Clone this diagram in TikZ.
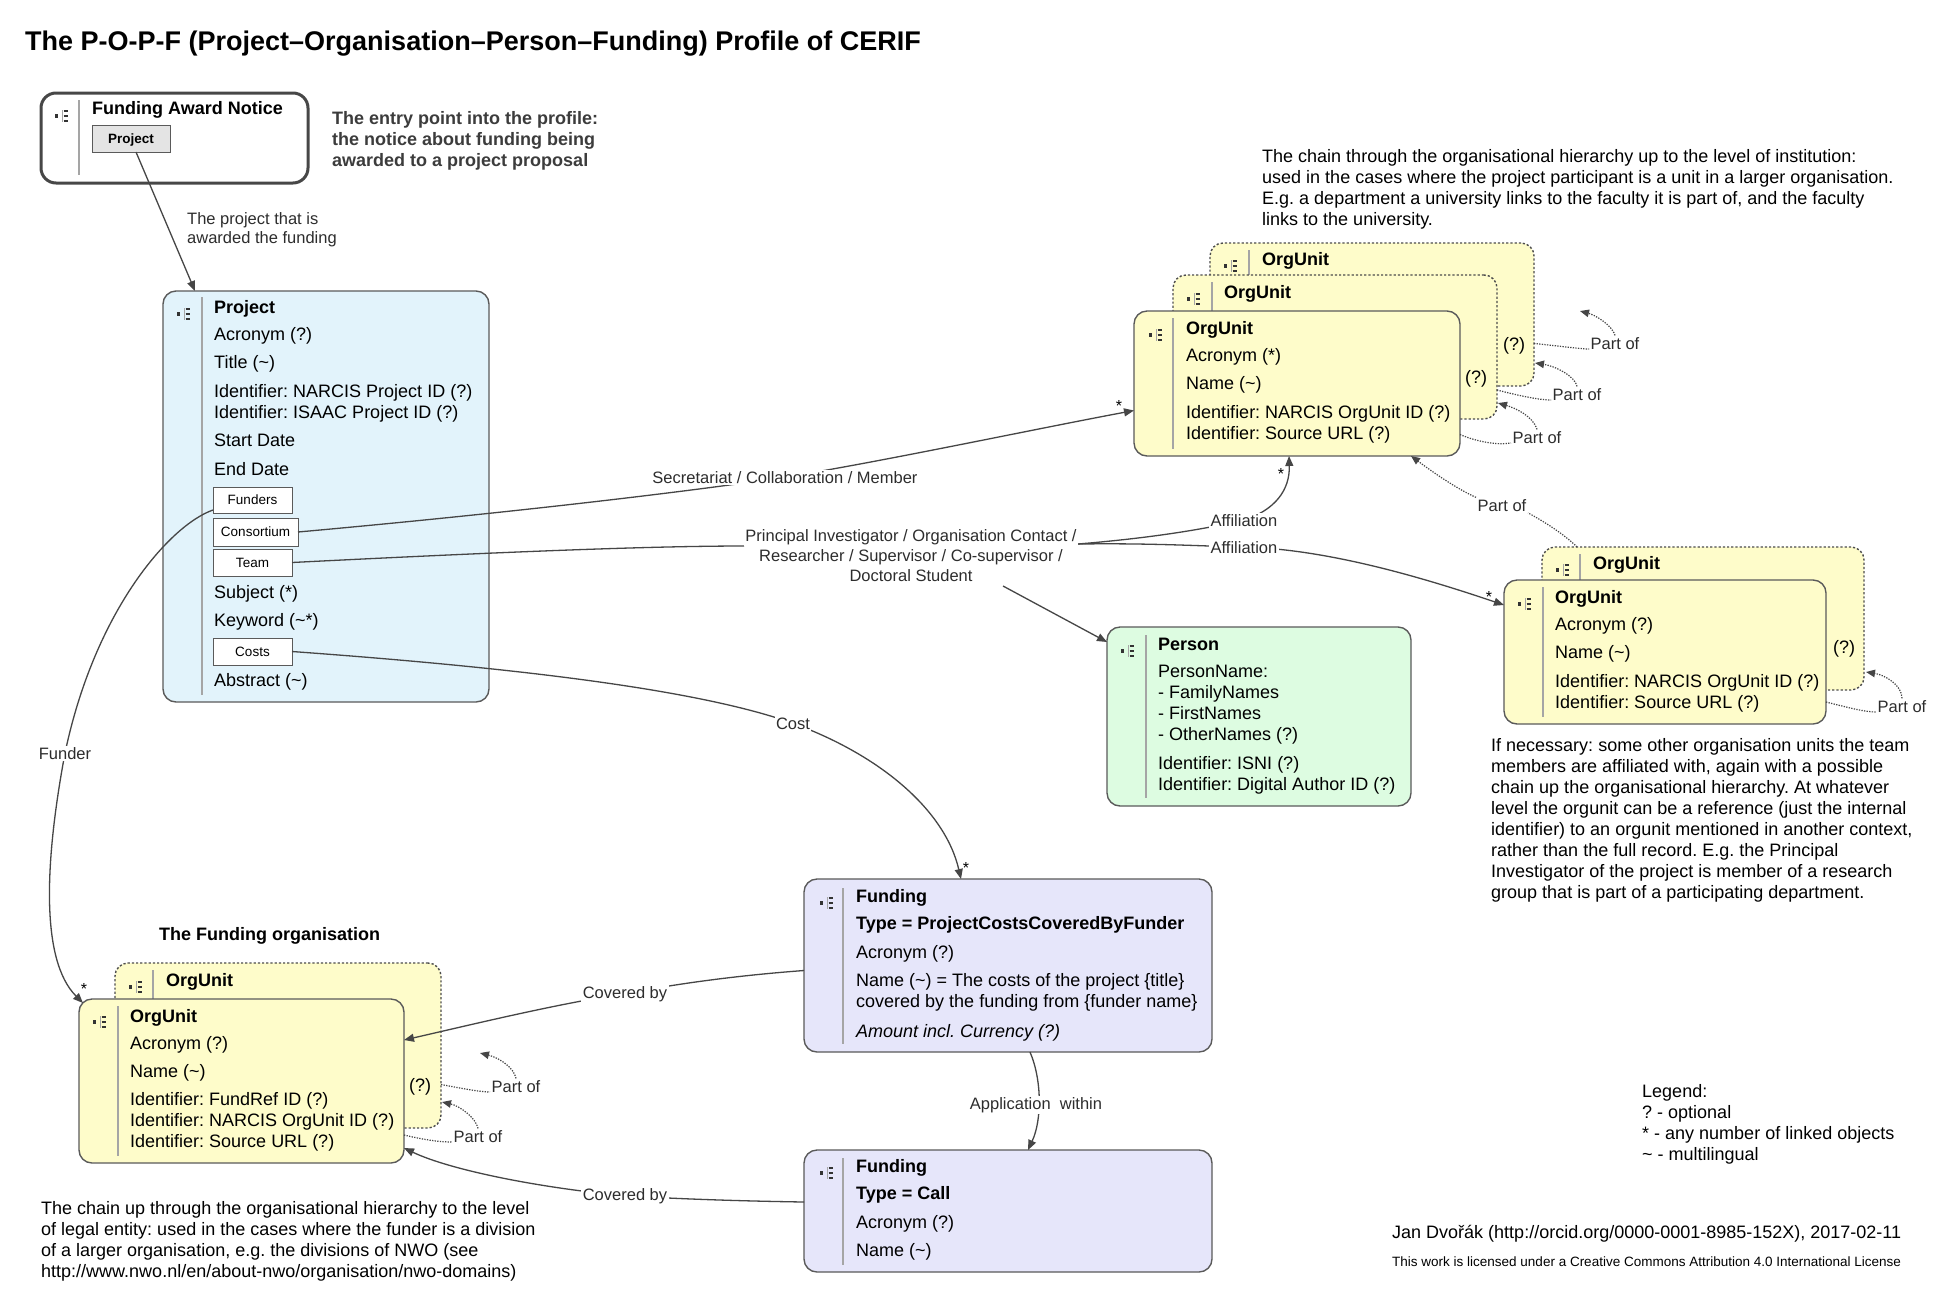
\documentclass[tikz,border=0pt]{standalone}
\usepackage{fontspec}
\setmainfont{Liberation Sans}
\usetikzlibrary{arrows.meta,calc}
\frenchspacing
\definecolor{projfill}{RGB}{226,243,251}
\definecolor{orgfill}{RGB}{254,252,202}
\definecolor{personfill}{RGB}{221,252,225}
\definecolor{fundfill}{RGB}{230,230,250}
\definecolor{btnfill}{RGB}{228,228,228}
\definecolor{edgeclr}{RGB}{90,90,90}
\definecolor{lineclr}{RGB}{70,70,70}
\definecolor{lblclr}{RGB}{45,45,45}
\definecolor{sepclr}{RGB}{165,165,165}
\definecolor{entryclr}{RGB}{60,60,60}
\pgfdeclarelayer{lines}
\pgfdeclarelayer{top}
\pgfsetlayers{main,lines,top}
\tikzset{
  cbox/.style={draw=edgeclr, line width=1.4pt, rounded corners=13pt, anchor=north west, inner sep=0pt, outer sep=0pt},
  dbox/.style={cbox, draw=black!70, dash pattern=on 2.2pt off 2pt},
  btn/.style={draw=edgeclr, line width=1pt, fill=white, anchor=north west, inner sep=0pt, outer sep=0pt,
    font=\fontsize{13.5}{16}\selectfont, text height=9.7pt, text depth=0pt},
  txt/.style={inner sep=0pt, anchor=base west, font=\fontsize{18}{21}\selectfont},
  btxt/.style={txt, font=\fontsize{18}{21}\selectfont\bfseries},
  lbl/.style={inner sep=1.5pt, anchor=base, fill=white, text=lblclr, font=\fontsize{16.5}{19}\selectfont},
  plbl/.style={lbl, fill=none},
  mult/.style={inner sep=0pt, anchor=base, font=\fontsize{16}{19}\selectfont},
  sepline/.style={draw=sepclr, line width=1.2pt},
  conn/.style={draw=lineclr, line width=1.3pt, -{Triangle[length=10pt,width=8pt]}},
  conline/.style={draw=lineclr, line width=1.3pt},
  dconn/.style={draw=lineclr, line width=1.2pt, dash pattern=on 1.3pt off 1.3pt, -{Triangle[length=9pt,width=7.5pt]}},
  dline/.style={draw=lineclr, line width=1.2pt, dash pattern=on 1.3pt off 1.3pt},
  treeicon/.pic={
    \fill[black!80] (-7,-1.7) rectangle (-3.6,1.7);
    \draw[black!35, line width=0.7pt] (0,-6) -- (0,6);
    \draw[black!80, line width=1.6pt] (1.5,-5) -- (5.5,-5) (1.5,0) -- (5.5,0) (1.5,5) -- (5.5,5);
  }
}
\begin{document}
\begin{tikzpicture}[x=1pt,y=-1pt]
\useasboundingbox (0,0) rectangle (1950,1310);
\fill[white] (0,0) rectangle (1950,1310);

% title
\node[inner sep=0pt, anchor=base west, font=\fontsize{27}{32}\selectfont\bfseries] (title) at (25,50)
  {The P-O-P-F (Project–Organisation–Person–Funding) Profile of CERIF};

% Funding Award Notice
\node[cbox, line width=3pt, draw=black!72, rounded corners=15pt, fill=white, minimum width=267pt, minimum height=90pt] (notice) at (41,93) {};
\pic at (62,116) {treeicon};
\draw[sepline] (79,100) -- (79,175);
\node[btxt] (noticeT) at (92,114) {Funding Award Notice};
\node[btn, fill=btnfill, minimum width=78pt, minimum height=27pt, font=\fontsize{13.5}{16}\selectfont\bfseries] (projbtn) at (92,125) {Project};

\node[txt, font=\fontsize{18}{21}\selectfont\bfseries, text=entryclr] (e1) at (332,124) {The entry point into the profile:};
\node[txt, font=\fontsize{18}{21}\selectfont\bfseries, text=entryclr] (e2) at (332,145) {the notice about funding being};
\node[txt, font=\fontsize{18}{21}\selectfont\bfseries, text=entryclr] (e3) at (332,166) {awarded to a project proposal};

\node[txt, text=lblclr, font=\fontsize{16.5}{19}\selectfont] (n1) at (187,224) {The project that is};
\node[txt, text=lblclr, font=\fontsize{16.5}{19}\selectfont] (n2) at (187,243) {awarded the funding};

% Project
\node[cbox, fill=projfill, minimum width=326pt, minimum height=411pt] (project) at (163,291) {};
\pic at (184,314) {treeicon};
\draw[sepline] (202,297) -- (202,695);
\node[btxt] (pT) at (214,313) {Project};
\node[txt] (p1) at (214,340) {Acronym (?)};
\node[txt] (p2) at (214,368) {Title (\textasciitilde)};
\node[txt] (p3) at (214,397) {Identifier: NARCIS Project ID (?)};
\node[txt] (p4) at (214,418) {Identifier: ISAAC Project ID (?)};
\node[txt] (p5) at (214,446) {Start Date};
\node[txt] (p6) at (214,475) {End Date};
\node[btn, minimum width=79pt, minimum height=26pt] (funders) at (213,487) {Funders};
\node[btn, minimum width=85pt, minimum height=28pt] (consortium) at (213,518) {Consortium};
\node[btn, minimum width=79pt, minimum height=27pt] (team) at (213,549) {Team};
\node[txt] (p7) at (214,598) {Subject (*)};
\node[txt] (p8) at (214,626) {Keyword (\textasciitilde*)};
\node[btn, minimum width=79pt, minimum height=27pt] (costs) at (213,638) {Costs};
\node[txt] (p9) at (214,686) {Abstract (\textasciitilde)};

% upper OrgUnit stack
\node[dbox, fill=orgfill, minimum width=324pt, minimum height=143pt] (orgA2) at (1210,243) {};
\pic at (1231,266) {treeicon};
\draw[sepline] (1249,250) -- (1249,379);
\node[btxt] (a2T) at (1262,265) {OrgUnit};
\node[txt, anchor=base] (a2q) at (1514,350) {(?)};
\node[dbox, fill=orgfill, minimum width=324pt, minimum height=144pt] (orgA1) at (1173,275) {};
\pic at (1194,299) {treeicon};
\draw[sepline] (1212,282) -- (1212,412);
\node[btxt] (a1T) at (1224,298) {OrgUnit};
\node[txt, anchor=base] (a1q) at (1476,383) {(?)};
\node[cbox, fill=orgfill, minimum width=326pt, minimum height=145pt] (orgA) at (1134,311) {};
\pic at (1156,335) {treeicon};
\draw[sepline] (1173,318) -- (1173,449);
\node[btxt] (aT) at (1186,334) {OrgUnit};
\node[txt] (a1) at (1186,361) {Acronym (*)};
\node[txt] (a2) at (1186,389) {Name (\textasciitilde)};
\node[txt] (a3) at (1186,418) {Identifier: NARCIS OrgUnit ID (?)};
\node[txt] (a4) at (1186,439) {Identifier: Source URL (?)};

% lower right OrgUnit stack
\node[dbox, fill=orgfill, minimum width=322pt, minimum height=143pt] (orgBb) at (1542,547) {};
\pic at (1563,570) {treeicon};
\draw[sepline] (1580,554) -- (1580,683);
\node[btxt] (bbT) at (1593,569) {OrgUnit};
\node[txt, anchor=base] (bbq) at (1844,653) {(?)};
\node[cbox, fill=orgfill, minimum width=322pt, minimum height=144pt] (orgB) at (1504,580) {};
\pic at (1525,604) {treeicon};
\draw[sepline] (1543,587) -- (1543,717);
\node[btxt] (bT) at (1555,603) {OrgUnit};
\node[txt] (b1) at (1555,630) {Acronym (?)};
\node[txt] (b2) at (1555,658) {Name (\textasciitilde)};
\node[txt] (b3) at (1555,687) {Identifier: NARCIS OrgUnit ID (?)};
\node[txt] (b4) at (1555,708) {Identifier: Source URL (?)};

% Person
\node[cbox, fill=personfill, minimum width=304pt, minimum height=179pt] (person) at (1107,627) {};
\pic at (1128,651) {treeicon};
\draw[sepline] (1146,635) -- (1146,798);
\node[btxt] (perT) at (1158,650) {Person};
\node[txt] (per1) at (1158,677) {PersonName:};
\node[txt] (per2) at (1158,698) {- FamilyNames};
\node[txt] (per3) at (1158,719) {- FirstNames};
\node[txt] (per4) at (1158,740) {- OtherNames (?)};
\node[txt] (per5) at (1158,769) {Identifier: ISNI (?)};
\node[txt] (per6) at (1158,790) {Identifier: Digital Author ID (?)};

% Funding (ProjectCostsCoveredByFunder)
\node[cbox, fill=fundfill, minimum width=408pt, minimum height=173pt] (fund1) at (804,879) {};
\pic at (827,903) {treeicon};
\draw[sepline] (843,888) -- (843,1044);
\node[btxt] (f1T) at (856,902) {Funding};
\node[btxt] (f11) at (856,929) {Type = ProjectCostsCoveredByFunder};
\node[txt] (f12) at (856,958) {Acronym (?)};
\node[txt] (f13) at (856,986) {Name (\textasciitilde) = The costs of the project \{title\}};
\node[txt] (f14) at (856,1007) {covered by the funding from \{funder name\}};
\node[txt, font=\fontsize{18}{21}\selectfont\itshape] (f15) at (856,1037) {Amount incl. Currency (?)};

% Funding (Call)
\node[cbox, fill=fundfill, minimum width=408pt, minimum height=122pt] (fund2) at (804,1150) {};
\pic at (827,1173) {treeicon};
\draw[sepline] (843,1158) -- (843,1265);
\node[btxt] (f2T) at (856,1172) {Funding};
\node[btxt] (f21) at (856,1199) {Type = Call};
\node[txt] (f22) at (856,1228) {Acronym (?)};
\node[txt] (f23) at (856,1256) {Name (\textasciitilde)};

% Funding organisation
\node[btxt] (foHead) at (159,940) {The Funding organisation};
\node[dbox, fill=orgfill, minimum width=326pt, minimum height=165pt] (foBack) at (115,963) {};
\pic at (136,987) {treeicon};
\draw[sepline] (153,970) -- (153,1121);
\node[btxt] (fbT) at (166,986) {OrgUnit};
\node[txt, anchor=base] (fbq) at (420,1091) {(?)};
\node[cbox, fill=orgfill, minimum width=325pt, minimum height=164pt] (fo) at (79,999) {};
\pic at (100,1022) {treeicon};
\draw[sepline] (118,1006) -- (118,1156);
\node[btxt] (foT) at (130,1022) {OrgUnit};
\node[txt] (fo1) at (130,1049) {Acronym (?)};
\node[txt] (fo2) at (130,1077) {Name (\textasciitilde)};
\node[txt] (fo3) at (130,1105) {Identifier: FundRef ID (?)};
\node[txt] (fo4) at (130,1126) {Identifier: NARCIS OrgUnit ID (?)};
\node[txt] (fo5) at (130,1147) {Identifier: Source URL (?)};

% descriptions
\node[txt] (d1) at (1262,162) {The chain through the organisational hierarchy up to the level of institution:};
\node[txt] (d2) at (1262,183) {used in the cases where the project participant is a unit in a larger organisation.};
\node[txt] (d3) at (1262,204) {E.g. a department a university links to the faculty it is part of, and the faculty};
\node[txt] (d4) at (1262,225) {links to the university.};

\node[txt] (r1) at (1491,751) {If necessary: some other organisation units the team};
\node[txt] (r2) at (1491,772) {members are affiliated with, again with a possible};
\node[txt] (r3) at (1491,793) {chain up the organisational hierarchy. At whatever};
\node[txt] (r4) at (1491,814) {level the orgunit can be a reference (just the internal};
\node[txt] (r5) at (1491,835) {identifier) to an orgunit mentioned in another context,};
\node[txt] (r6) at (1491,856) {rather than the full record. E.g. the Principal};
\node[txt] (r7) at (1491,877) {Investigator of the project is member of a research};
\node[txt] (r8) at (1491,898) {group that is part of a participating department.};

\node[txt] (l1) at (41,1214) {The chain up through the organisational hierarchy to the level};
\node[txt] (l2) at (41,1235) {of legal entity: used in the cases where the funder is a division};
\node[txt] (l3) at (41,1256) {of a larger organisation, e.g. the divisions of NWO (see};
\node[txt] (l4) at (41,1277) {http://www.nwo.nl/en/about-nwo/organisation/nwo-domains)};

% legend and credits
\node[txt] (g0) at (1642,1097) {Legend:};
\node[txt] (g1) at (1642,1118) {? - optional};
\node[txt] (g2) at (1642,1139) {* - any number of linked objects};
\node[txt] (g3) at (1642,1160) {\textasciitilde{} - multilingual};
\node[txt] (cr1) at (1392,1238) {Jan Dvořák (http://orcid.org/0000-0001-8985-152X), 2017-02-11};
\node[txt, font=\fontsize{13.5}{16}\selectfont] (cr2) at (1392,1266) {This work is licensed under a Creative Commons Attribution 4.0 International License};

% multiplicity stars
\node[mult] (s1) at (1119,411) {*};
\node[mult] (s2) at (1281,479) {*};
\node[mult] (s3) at (1489,602) {*};
\node[mult] (s4) at (966,873) {*};
\node[mult] (s5) at (84,994) {*};

% free ends
\coordinate (rolesL) at (744,546);
\coordinate (rolesR) at (1078,544);
\coordinate (rolesB) at (1003,586);
\coordinate (ptop) at (1580,311);
\coordinate (pfund) at (480,1053);

% labels on top
\begin{pgfonlayer}{top}
\node[lbl] (lblSec) at (785,483) {Secretariat / Collaboration / Member};
\node[lbl] (ro1) at (911,541) {Principal Investigator / Organisation Contact /};
\node[lbl] (ro2) at (911,561) {Researcher / Supervisor / Co-supervisor /};
\node[lbl] (ro3) at (911,581) {Doctoral Student};
\node[lbl] (aff1) at (1244,526) {Affiliation};
\node[lbl] (aff2) at (1244,553) {Affiliation};
\node[lbl] (lblCost) at (793,729) {Cost};
\node[lbl] (lblFunder) at (65,759) {Funder};
\node[lbl] (cov1) at (625,998) {Covered by};
\node[lbl] (cov2) at (625,1200) {Covered by};
\node[lbl] (appl) at (1036,1109) {Application\ \ within};
\node[plbl] (pA) at (1537,443) {Part of};
\node[plbl] (pB) at (1577,400) {Part of};
\node[plbl] (pC) at (1615,349) {Part of};
\node[plbl] (pD) at (1902,712) {Part of};
\node[plbl] (pE) at (1502,511) {Part of};
\node[plbl] (pF) at (516,1092) {Part of};
\node[plbl] (pG) at (478,1142) {Part of};
\end{pgfonlayer}

% connectors
\begin{pgfonlayer}{lines}
\draw[conn] ([xshift=5pt]projbtn.south) -- ($(project.north west)+(32,0)$);
\draw[conn] ($(funders.west)+(0,10)$) .. controls (170,525) and (95,610) .. (lblFunder.center)
   .. controls (45,860) and (40,960) .. ($(fo.north west)+(4,4)$);
\draw[conn] (consortium.east) .. controls (520,512) and (700,490) .. (lblSec.center)
   .. controls (880,462) and (1030,430) .. ($(orgA.west)+(0,27)$);
\draw[conline] (team.east) .. controls (500,552) and (650,546) .. (rolesL);
\draw[conn] (rolesR) .. controls (1150,538) and (1200,530) .. (aff1.center)
   .. controls (1275,510) and (1290,490) .. ($(orgA.south)+(-8,0)$);
\draw[conn] (rolesR) .. controls (1150,543) and (1200,546) .. (aff2.center)
   .. controls (1330,549) and (1430,580) .. ($(orgB.north west)+(0,25)$);
\draw[conn] (rolesB) -- ($(person.north west)+(0,15)$);
\draw[conn] (costs.east) .. controls (520,668) and (700,690) .. (lblCost.center)
   .. controls (880,755) and (945,810) .. ($(fund1.north)+(-47,0)$);
\draw[conn] ($(fund1.south)+(22,0)$) .. controls (1042,1080) and (1042,1120) .. ($(fund2.north)+(20,0)$);
\draw[conn] ($(fund1.west)+(0,5)$) .. controls (730,976) and (670,985) .. (cov1.center)
   .. controls (560,1003) and (470,1025) .. ($(fo.east)+(0,-41)$);
\draw[conn] ($(fund2.west)+(0,-9)$) .. controls (740,1201) and (680,1199) .. (cov2.center)
   .. controls (540,1188) and (450,1170) .. ($(fo.south east)+(0,-15)$);
% part-of chains
\draw[dline] ($(orgA.east)+(0,51)$) .. controls (1480,443) and (1500,445) .. (pA.base west);
\draw[dconn] (pA.north) .. controls (1533,416) and (1515,408) .. ($(orgA1.south east)+(1,-16)$);
\draw[dline] ($(orgA1.east)+(0,43)$) .. controls (1520,396) and (1540,400) .. (pB.base west);
\draw[dconn] (pB.north) .. controls (1575,376) and (1555,366) .. ($(orgA2.east)+(1,48.5)$);
\draw[dline] ($(orgA2.east)+(0,29)$) .. controls (1560,346) and (1580,349) .. (pC.base west);
\draw[dconn] (pC.north) .. controls (1612,325) and (1595,315) .. (ptop);
\draw[dline] ($(orgB.east)+(0,50)$) .. controls (1850,708) and (1865,712) .. (pD.base west);
\draw[dconn] (pD.north) .. controls (1902,685) and (1885,675) .. ($(orgBb.east)+(2,53.5)$);
\draw[dline] ($(orgBb.north west)+(35,0)$) .. controls (1565,535) and (1545,522) .. (pE.south east);
\draw[dconn] (pE.north west) .. controls (1455,488) and (1430,470) .. ($(orgA.south east)+(-49,0)$);
\draw[dline] ($(foBack.east)+(0,39)$) .. controls (460,1088) and (480,1092) .. (pF.base west);
\draw[dconn] (pF.north) .. controls (514,1068) and (500,1058) .. (pfund);
\draw[dline] ($(fo.east)+(0,54)$) .. controls (425,1140) and (440,1142) .. (pG.base west);
\draw[dconn] (pG.north) .. controls (476,1118) and (460,1106) .. ($(foBack.south east)+(1,-26)$);
\end{pgfonlayer}
\end{tikzpicture}
\end{document}
